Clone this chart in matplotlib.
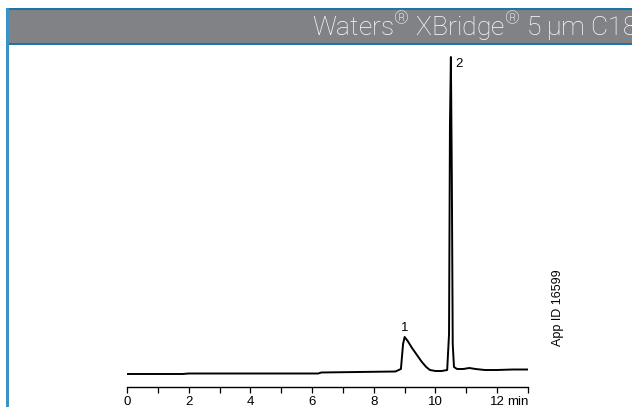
import matplotlib.pyplot as plt
from matplotlib.patches import Rectangle

# chromatogram trace (time in min, signal in arbitrary units)
t = [0.0, 1.8, 2.0, 4.0, 6.2, 6.3, 7.5, 8.7, 8.88, 8.95, 9.0, 9.1, 9.24, 9.4,
     9.56, 9.7, 9.82, 10.0, 10.2, 10.38, 10.44, 10.47, 10.50, 10.53, 10.56,
     10.6, 10.7, 10.9, 11.1, 11.3, 11.6, 12.0, 12.5, 13.0]
signal = [0, 0, 0.5, 0.5, 0.5, 1.5, 2, 2.5, 5, 30, 37, 33, 26, 19,
          12, 7, 4, 3, 3, 4, 40, 250, 317, 200, 30,
          7, 5, 5, 6, 5, 4, 4, 4.5, 4.5]

peak_t = [9.0, 10.5]
peak_h = [37, 317]
peak_names = ["1", "2"]

plt.rcParams['font.family'] = ['Liberation Sans', 'DejaVu Sans']

fig = plt.figure(figsize=(6.32, 4.07), dpi=100)
W, H = 632, 407

# header banner
fig.add_artist(Rectangle((7 / W, 1 - 44 / H), 1, 36 / H, transform=fig.transFigure,
                         facecolor='#808285', edgecolor='none'))
fig.add_artist(Rectangle((7 / W, 1 - 10 / H), 1, 2 / H, transform=fig.transFigure,
                         facecolor='#1b75ab', edgecolor='none'))
fig.add_artist(Rectangle((7 / W, 1 - 45 / H), 1, 2 / H, transform=fig.transFigure,
                         facecolor='#1b75ab', edgecolor='none'))
fig.add_artist(Rectangle((6 / W, 0), 2.5 / W, 1 - 8 / H, transform=fig.transFigure,
                         facecolor='#3b92c4', edgecolor='none'))

plt.rcParams['mathtext.fontset'] = 'custom'
plt.rcParams['mathtext.rm'] = 'Roboto:light'
fig.text(637 / W, 1 - 36 / H, r"Waters$^{\mathrm{®}}$ XBridge$^{\mathrm{®}}$ 5" + "\u2009" + "µm C18",
         ha='right', va='baseline', color='white', fontsize=19,
         family='Roboto', fontweight='light')

# plot area: x 0..13 -> 127..528 px, spine at 387 px
ax = fig.add_axes([127 / W, 1 - 387 / H, 401 / W, 337 / H])
ax.plot(t, signal, color='black', lw=1.4)
ax.set_xlim(0, 13)
ax.set_ylim(-13, 324)

for s in ['top', 'right', 'left']:
    ax.spines[s].set_visible(False)
ax.spines['bottom'].set_linewidth(1.0)
ax.set_yticks([])
ax.set_xticks([0, 2, 4, 6, 8, 10, 12])
ax.set_xticks([1, 3, 5, 7, 9, 11, 13], minor=True)
ax.tick_params(axis='x', which='both', direction='out', length=4, width=0.9,
               labelsize=9.5, pad=2.5)
ax.annotate("min", xy=(12.33, 0), xycoords=ax.get_xaxis_transform(),
            xytext=(0, -6.5), textcoords='offset points', ha='left', va='top',
            fontsize=9.5)

ax.text(peak_t[0], peak_h[0] + 3, peak_names[0], ha='center', va='bottom', fontsize=9.5)
ax.text(peak_t[1] + 0.13, peak_h[1] - 1, peak_names[1], ha='left', va='top', fontsize=9.5)

fig.text(558 / W, 1 - 308 / H, "App ID 16599", rotation=90, ha='center', va='center',
         fontsize=9)

fig.savefig("out.png", dpi=100)
